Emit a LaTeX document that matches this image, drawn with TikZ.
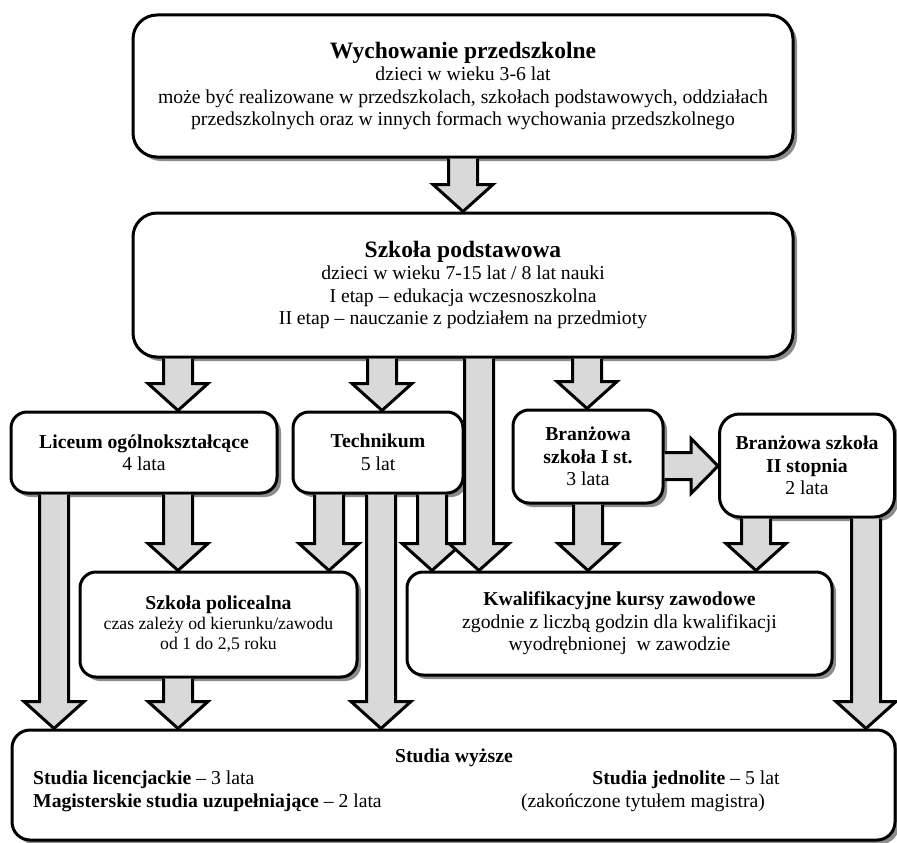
\documentclass[tikz,border=0pt]{standalone}
\usepackage{fontspec}
\setmainfont{Liberation Serif}
\usetikzlibrary{shadows,calc}

\newcommand{\strzalka}[3]{%
	\filldraw[strz] let \p1=(#1,0 |- #2.south), \p2=(#1,0 |- #3.north) in
		(\x1-14.5pt,\y1) -- (\x1-14.5pt,\y2+27pt) -- (\x1-30pt,\y2+27pt) -- (\x1,\y2)
		-- (\x1+30pt,\y2+27pt) -- (\x1+14.5pt,\y2+27pt) -- (\x1+14.5pt,\y1);%
}

\begin{document}
\begin{tikzpicture}[x=1pt, y=-1pt,
		box/.style={draw, line width=3pt, fill=white, rounded corners=16pt, align=center,
			font=\fontsize{19.7}{22.5}\selectfont,
			drop shadow={shadow xshift=4pt, shadow yshift=-4pt, fill=black!45, opacity=1}},
		txt/.style={font=\fontsize{19.7}{22.5}\selectfont, inner sep=0pt},
		strz/.style={fill=black!15, draw=black, line width=3pt}]
			\useasboundingbox (0,0) rectangle (897,843);

			\node[box, rounded corners=24pt, minimum width=660pt, minimum height=142pt] (wych) at (463,86)
				{{\fontsize{23.5}{25}\selectfont\bfseries Wychowanie przedszkolne}\\
				dzieci w wieku 3-6 lat\\
				może być realizowane w przedszkolach, szkołach podstawowych, oddziałach\\
				przedszkolnych oraz w innych formach wychowania przedszkolnego};

			\node[box, rounded corners=24pt, minimum width=660pt, minimum height=144pt] (podst) at (463,285)
				{{\fontsize{23.5}{25}\selectfont\bfseries Szkoła podstawowa}\\
				dzieci w wieku 7-15 lat / 8 lat nauki\\
				I etap -- edukacja wczesnoszkolna\\
				II etap -- nauczanie z podziałem na przedmioty};

			\node[box, minimum width=266pt, minimum height=81pt] (lic) at (144,452.5)
				{\textbf{Liceum ogólnokształcące}\\4 lata};
			\node[box, minimum width=170pt, minimum height=81pt] (tech) at (378,452.5)
				{\textbf{Technikum}\\5 lat};
			\node[box, minimum width=150pt, minimum height=93pt] (bran1) at (588,456.5)
				{\textbf{Branżowa}\\\textbf{szkoła I st.}\\3 lata};
			\node[box, rounded corners=20pt, minimum width=175pt, minimum height=103pt] (bran2) at (807,465.5)
				{\textbf{Branżowa szkoła}\\\textbf{II stopnia}\\2 lata};

			\node[box, font=\fontsize{17.7}{20}\selectfont, minimum width=277pt, minimum height=105pt] (pol) at (218.5,624.5)
				{{\fontsize{19.7}{22}\selectfont\bfseries Szkoła policealna}\\
				czas zależy od kierunku/zawodu\\
				od 1 do 2,5 roku};
			\node[box, minimum width=425pt, minimum height=103pt] (kwal) at (619.5,623.5)
				{\textbf{Kwalifikacyjne kursy zawodowe}\\
				zgodnie z liczbą godzin dla kwalifikacji\\
				wyodrębnionej \ w zawodzie};

			\node[box, rounded corners=18pt, minimum width=883pt, minimum height=110pt] (stud) at (453.5,785) {};
			\node[txt] (studtyt) at (454,758) {\textbf{Studia wyższe}};
			\node[txt, align=left, anchor=west] (studlewa) at (33,791.5)
				{\textbf{Studia licencjackie} -- 3 lata\\\textbf{Magisterskie studia uzupełniające} -- 2 lata};
			\node[txt] (studjedn) at (686,780) {\textbf{Studia jednolite} -- 5 lat};
			\node[txt] (studmag) at (643,803) {(zakończone tytułem magistra)};

			\strzalka{463}{wych}{podst}
			\strzalka{178}{podst}{lic}
			\strzalka{382}{podst}{tech}
			\strzalka{587}{podst}{bran1}
			\strzalka{178}{lic}{pol}
			\strzalka{54}{lic}{stud}
			\strzalka{329}{tech}{pol}
			\strzalka{381}{tech}{stud}
			\strzalka{432}{tech}{kwal}
			\strzalka{479}{podst}{kwal}
			\strzalka{588}{bran1}{kwal}
			\strzalka{756}{bran2}{kwal}
			\strzalka{866}{bran2}{stud}
			\strzalka{178}{pol}{stud}

			\filldraw[strz] let \p1=(bran1.east |- 0,466), \p2=(bran2.west |- 0,466) in
				(\x1,\y1+13.5pt) -- (\x2-27pt,\y1+13.5pt) -- (\x2-27pt,\y1+27.5pt) -- (\x2,\y1)
				-- (\x2-27pt,\y1-27.5pt) -- (\x2-27pt,\y1-13.5pt) -- (\x1,\y1-13.5pt);
		\end{tikzpicture}
\end{document}
